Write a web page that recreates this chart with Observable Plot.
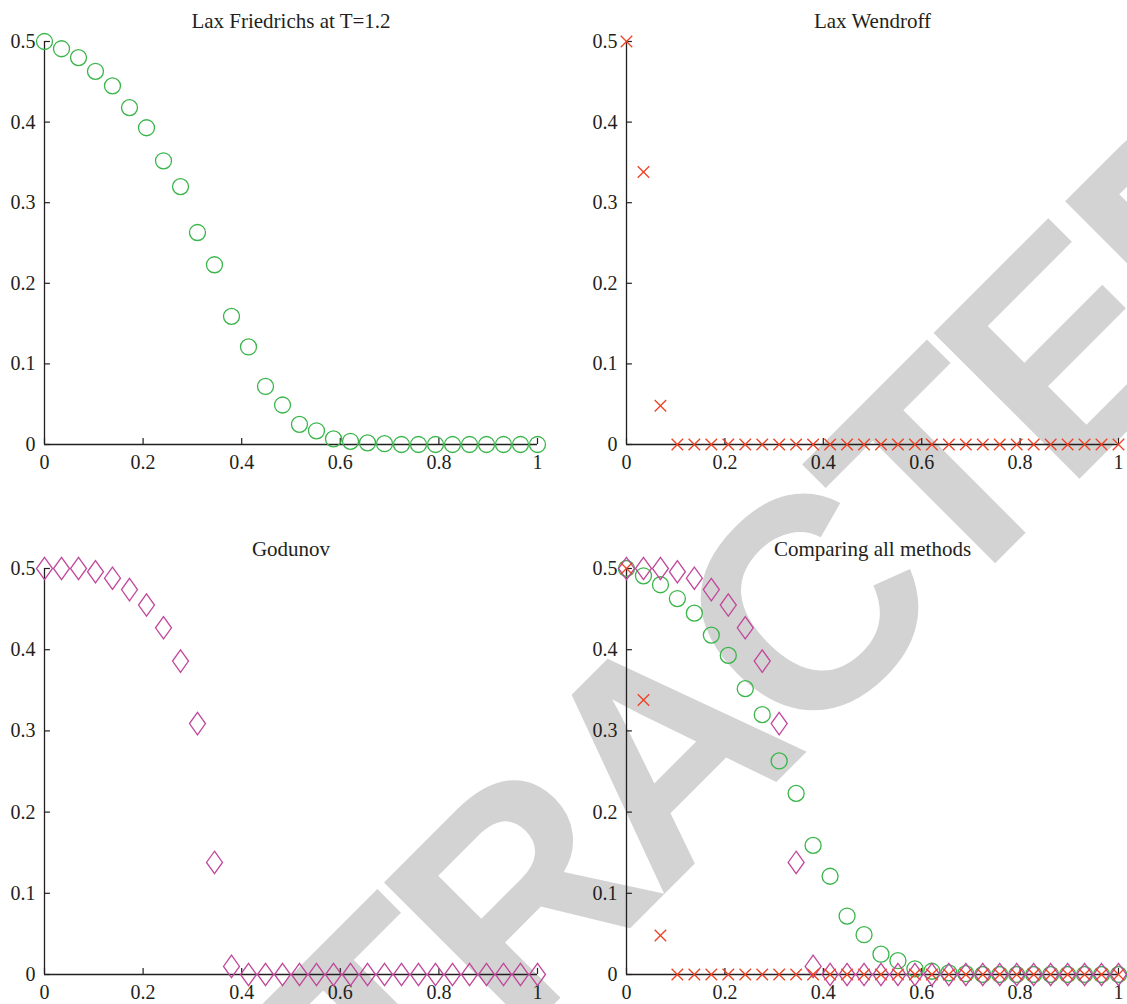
<!DOCTYPE html>
<html>
<head>
<meta charset="utf-8">
<script src="https://cdn.jsdelivr.net/npm/d3@7"></script>
<script src="https://cdn.jsdelivr.net/npm/@observablehq/plot@0.6"></script>
<style>
  html, body { margin: 0; padding: 0; background: #ffffff; }
  #page { position: relative; width: 1127px; height: 1004px; overflow: hidden; background: #ffffff; }
  #wm { position: absolute; left: 0; top: 0; }
  .panel { position: absolute; }
</style>
</head>
<body>
<div id="page">
  <svg id="wm" width="1127" height="1004">
    <text transform="translate(655,752) rotate(-45)" y="107" text-anchor="middle"
          font-family="Liberation Sans, Arial, sans-serif" font-weight="bold" font-size="300"
          letter-spacing="-14" fill="#d3d3d3">RETRACTED</text>
  </svg>
</div>
<script>
// ---- data ----
const xGrid = [0, 0.0345, 0.069, 0.1034, 0.1379, 0.1724, 0.2069, 0.2414, 0.2759, 0.3103,
  0.3448, 0.3793, 0.4138, 0.4483, 0.4828, 0.5172, 0.5517, 0.5862, 0.6207, 0.6552,
  0.6897, 0.7241, 0.7586, 0.7931, 0.8276, 0.8621, 0.8966, 0.931, 0.9655, 1];

const laxFriedrichs = [0.5, 0.491, 0.480, 0.463, 0.445, 0.418, 0.393, 0.352, 0.320, 0.263,
  0.223, 0.159, 0.121, 0.072, 0.049, 0.025, 0.017, 0.007, 0.004, 0.002,
  0.001, 0, 0, 0, 0, 0, 0, 0, 0, 0];

const laxWendroff = [0.5, 0.338, 0.048, 0, 0, 0, 0, 0, 0, 0,
  0, 0, 0, 0, 0, 0, 0, 0, 0, 0,
  0, 0, 0, 0, 0, 0, 0, 0, 0, 0];

const godunov = [0.5, 0.5, 0.5, 0.496, 0.488, 0.474, 0.455, 0.427, 0.386, 0.309,
  0.138, 0.010, 0, 0, 0, 0, 0, 0, 0, 0,
  0, 0, 0, 0, 0, 0, 0, 0, 0, 0];

const yTicks = [0, 0.1, 0.2, 0.3, 0.4, 0.5];
const xTicks = [0, 0.2, 0.4, 0.6, 0.8, 1];
const panelTitles = ["Lax Friedrichs at T=1.2", "Lax Wendroff", "Godunov", "Comparing all methods"];

// ---- styling ----
const axisColor = "#231f20";
const green = "#39b54a";
const red = "#ef4123";
const magenta = "#c1479b";

const diamondSymbol = {
  draw(context, size) {
    const r = Math.sqrt(size / Math.PI);
    const h = r * 1.4, w = r * 1.0;
    context.moveTo(0, -h);
    context.lineTo(w, 0);
    context.lineTo(0, h);
    context.lineTo(-w, 0);
    context.closePath();
  }
};
const crossSymbol = {
  draw(context, size) {
    const r = Math.sqrt(size / Math.PI) * 0.72;
    context.moveTo(-r, -r);
    context.lineTo(r, r);
    context.moveTo(r, -r);
    context.lineTo(-r, r);
  }
};

const seriesLF = {values: laxFriedrichs, symbol: "circle", color: green};
const seriesLW = {values: laxWendroff, symbol: crossSymbol, color: red};
const seriesGD = {values: godunov, symbol: diamondSymbol, color: magenta};

const fmt = d3.format("~g");

function makePanel({left, top, width, height, marginRight, titleDy, title, series}) {
  const marks = [
    Plot.ruleY([0], {x1: 0, x2: 1, stroke: axisColor, strokeWidth: 1.3}),
    Plot.ruleX([0], {y1: 0, y2: 0.5, stroke: axisColor, strokeWidth: 1.3}),
    Plot.ruleY(yTicks, {x1: 0, x2: 0.012, stroke: axisColor, strokeWidth: 1.2}),
    Plot.ruleX(xTicks, {y1: 0, y2: 0.0075, stroke: axisColor, strokeWidth: 1.2}),
    Plot.axisY(yTicks, {tickSize: 0, tickPadding: 9, tickFormat: fmt, fill: axisColor}),
    Plot.axisX(xTicks, {tickSize: 0, tickPadding: 10, tickFormat: fmt, fill: axisColor}),
    Plot.text([title], {frameAnchor: "top", dy: titleDy, text: d => d, fill: axisColor, fontSize: 21})
  ];
  for (const s of series) {
    const data = xGrid.map((x, i) => ({x, y: s.values[i]}));
    marks.push(Plot.dot(data, {
      x: "x", y: "y", r: 8, symbol: s.symbol,
      stroke: s.color, strokeWidth: 1.3, fill: "none"
    }));
  }
  const chart = Plot.plot({
    width, height,
    marginLeft: 44, marginRight, marginTop: 41, marginBottom: 26,
    x: {domain: [0, 1], label: null},
    y: {domain: [0, 0.5], label: null},
    style: {
      background: "transparent", overflow: "visible",
      fontFamily: "Liberation Serif, 'DejaVu Serif', serif", fontSize: "20px", color: axisColor
    },
    marks
  });
  const wrap = document.createElement("div");
  wrap.className = "panel";
  wrap.style.left = left + "px";
  wrap.style.top = top + "px";
  wrap.appendChild(chart);
  document.getElementById("page").appendChild(wrap);
}

makePanel({left: 0, top: 0, width: 563, height: 470, marginRight: 26, titleDy: -28,
  title: panelTitles[0], series: [seriesLF]});
makePanel({left: 582, top: 0, width: 545, height: 470, marginRight: 9, titleDy: -28,
  title: panelTitles[1], series: [seriesLW]});
makePanel({left: 0, top: 527, width: 563, height: 473, marginRight: 26, titleDy: -27,
  title: panelTitles[2], series: [seriesGD]});
makePanel({left: 582, top: 527, width: 545, height: 473, marginRight: 9, titleDy: -27,
  title: panelTitles[3], series: [seriesLF, seriesGD, seriesLW]});
</script>
</body>
</html>
